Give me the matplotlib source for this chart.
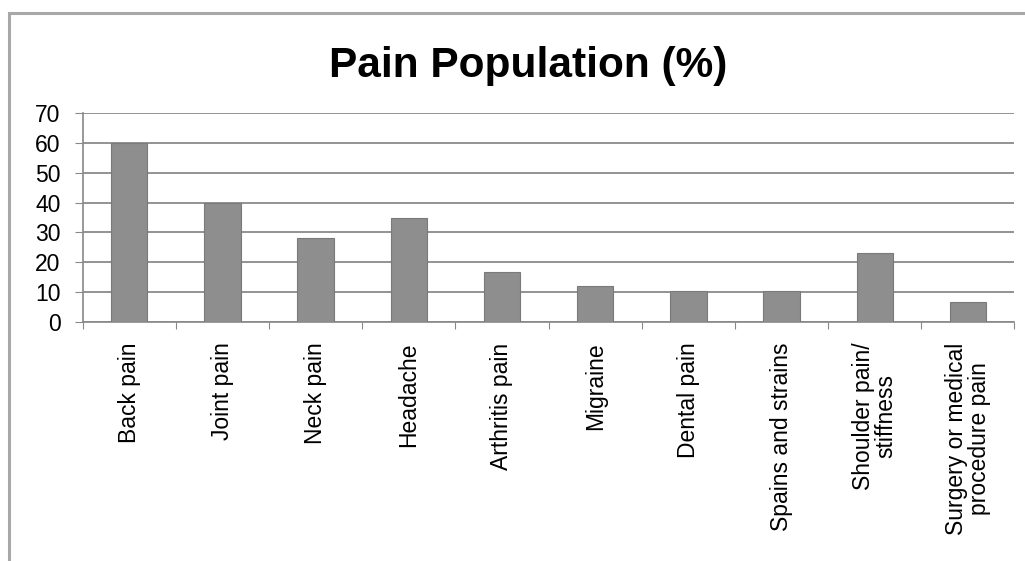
import matplotlib.pyplot as plt
from matplotlib.patches import Rectangle

categories = ["Back pain", "Joint pain", "Neck pain", "Headache", "Arthritis pain",
              "Migraine", "Dental pain", "Spains and strains",
              "Shoulder pain/\nstiffness", "Surgery or medical\nprocedure pain"]
values = [60, 40, 28, 34.8, 16.7, 11.9, 10.2, 10.2, 23, 6.6]
yticks = [0, 10, 20, 30, 40, 50, 60, 70]

plt.rcParams['font.family'] = ['Liberation Sans', 'DejaVu Sans']

fig = plt.figure(figsize=(10.25, 5.61), dpi=100)
fig.patch.set_facecolor('white')

# outer chart frame (runs off the right and bottom edges)
fig.patches.append(Rectangle((9 / 1025, -0.05), 1.2, 1 - 13 / 561 + 0.05,
                             transform=fig.transFigure, fill=False,
                             edgecolor='#a8a8a8', linewidth=2.2))

ax = fig.add_axes([0.0807, 0.4266, 0.909, 0.3714])
x = [i + 0.5 for i in range(len(categories))]
ax.bar(x, values, width=0.39, color='#8e8e8e', edgecolor='#7a7a7a', linewidth=0.8, zorder=3)

ax.set_xlim(0, len(categories))
ax.set_ylim(0, 70)
ax.set_yticks(yticks)
ax.set_yticklabels([str(v) for v in yticks], fontsize=16.5)
ax.yaxis.grid(True, color='#8a8a8a', linewidth=1.3, zorder=0)

ax.set_xticks(range(len(categories) + 1))
ax.set_xticklabels([])
ax.set_xticks(x, minor=True)
ax.set_xticklabels(categories, minor=True, rotation=90, fontsize=16.5,
                   va='top', ha='center', multialignment='center', linespacing=1.0)
ax.tick_params(axis='x', which='minor', length=0, pad=15)
ax.tick_params(axis='x', which='major', length=5, color='#888888', direction='out')
ax.tick_params(axis='y', length=6, color='#888888', pad=10)

for s in ['top', 'right']:
    ax.spines[s].set_visible(False)
ax.spines['left'].set_color('#888888')
ax.spines['bottom'].set_color('#888888')
ax.spines['left'].set_linewidth(1.2)
ax.spines['bottom'].set_linewidth(1.2)

fig.text(0.515, 1 - 66 / 561, "Pain Population (%)", fontsize=30.5, fontweight='bold',
         ha='center', va='center')

fig.savefig('out.png', dpi=100)
